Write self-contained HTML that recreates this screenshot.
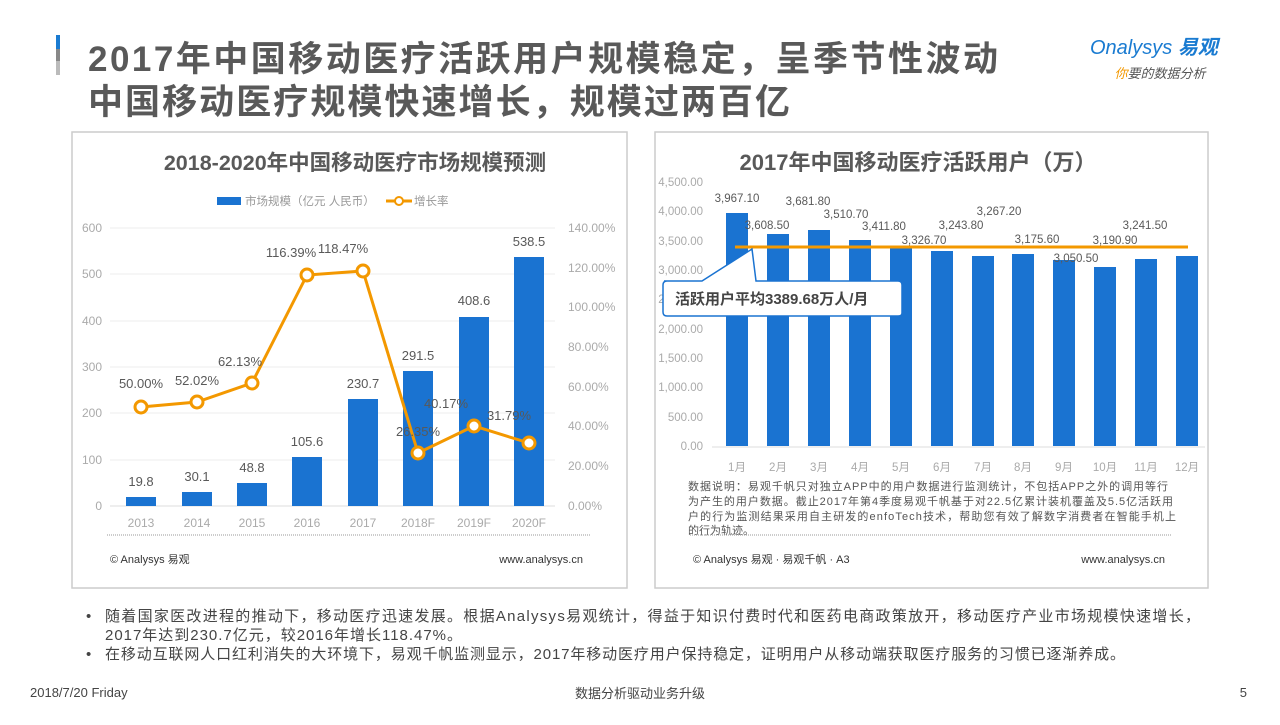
<!DOCTYPE html>
<html><head><meta charset="utf-8"><style>
body{margin:0;width:1280px;height:720px;background:#fff;overflow:hidden;font-family:"Liberation Sans","Noto Sans CJK SC",sans-serif}
svg text{font-family:"Liberation Sans","Noto Sans CJK SC",sans-serif}
</style></head><body>
<svg width="1280" height="720" viewBox="0 0 1280 720" xmlns="http://www.w3.org/2000/svg">
<rect x="56" y="35" width="4" height="14" fill="#1a7bd1"/>
<rect x="56" y="49" width="4" height="12" fill="#888"/>
<rect x="56" y="61" width="4" height="14" fill="#bbb"/>
<text x="88" y="71" font-size="35" font-weight="bold" fill="#595959" textLength="910" lengthAdjust="spacing">2017年中国移动医疗活跃用户规模稳定，呈季节性波动</text>
<text x="88" y="114" font-size="35" font-weight="bold" fill="#595959" textLength="702" lengthAdjust="spacing">中国移动医疗规模快速增长，规模过两百亿</text>
<text x="1090" y="54" font-size="20" fill="#1a7bd1" font-style="italic">Onalysys <tspan font-weight="bold">易观</tspan></text>
<text x="1160" y="78" font-size="13" fill="#555" text-anchor="middle" font-style="italic"><tspan fill="#f39800">你</tspan>要的数据分析</text>

<!-- left panel -->
<rect x="72" y="132" width="555" height="456" fill="#fff" stroke="#ccc" stroke-width="1.5"/>
<text x="355" y="170" font-size="21.5" font-weight="bold" fill="#595959" text-anchor="middle">2018-2020年中国移动医疗市场规模预测</text>
<rect x="217" y="197" width="24" height="8" fill="#1a73d1"/>
<text x="245" y="205" font-size="11.5" fill="#999">市场规模（亿元 人民币）</text>
<line x1="386" y1="201" x2="412" y2="201" stroke="#f39800" stroke-width="3"/>
<circle cx="399" cy="201" r="4" fill="#fff" stroke="#f39800" stroke-width="2"/>
<text x="414" y="205" font-size="11.5" fill="#999">增长率</text>
<g stroke="#eee" stroke-width="1">
<line x1="110" y1="228" x2="555" y2="228"/><line x1="110" y1="274" x2="555" y2="274"/><line x1="110" y1="321" x2="555" y2="321"/><line x1="110" y1="367" x2="555" y2="367"/><line x1="110" y1="413" x2="555" y2="413"/><line x1="110" y1="460" x2="555" y2="460"/></g>
<line x1="110" y1="506" x2="555" y2="506" stroke="#ddd"/>
<g font-size="12" fill="#aaa" text-anchor="end">
<text x="102" y="232">600</text><text x="102" y="278">500</text><text x="102" y="325">400</text><text x="102" y="371">300</text><text x="102" y="417">200</text><text x="102" y="464">100</text><text x="102" y="510">0</text></g>
<g font-size="12" fill="#aaa">
<text x="568" y="232">140.00%</text><text x="568" y="272">120.00%</text><text x="568" y="311">100.00%</text><text x="568" y="351">80.00%</text><text x="568" y="391">60.00%</text><text x="568" y="430">40.00%</text><text x="568" y="470">20.00%</text><text x="568" y="510">0.00%</text></g>
<g fill="#1a73d1">
<rect x="126" y="497" width="30" height="9"/><rect x="182" y="492" width="30" height="14"/><rect x="237" y="483" width="30" height="23"/><rect x="292" y="457" width="30" height="49"/><rect x="348" y="399" width="30" height="107"/><rect x="403" y="371" width="30" height="135"/><rect x="459" y="317" width="30" height="189"/><rect x="514" y="257" width="30" height="249"/></g>
<polyline points="141,407 197,402 252,383 307,275 363,271 418,453 474,426 529,443" fill="none" stroke="#f39800" stroke-width="3"/>
<g fill="#fff" stroke="#f39800" stroke-width="3">
<circle cx="141" cy="407" r="6"/><circle cx="197" cy="402" r="6"/><circle cx="252" cy="383" r="6"/><circle cx="307" cy="275" r="6"/><circle cx="363" cy="271" r="6"/><circle cx="418" cy="453" r="6"/><circle cx="474" cy="426" r="6"/><circle cx="529" cy="443" r="6"/></g>
<g font-size="13" fill="#595959" text-anchor="middle">
<text x="141" y="486">19.8</text><text x="197" y="481">30.1</text><text x="252" y="472">48.8</text><text x="307" y="446">105.6</text><text x="363" y="388">230.7</text><text x="418" y="360">291.5</text><text x="474" y="305">408.6</text><text x="529" y="246">538.5</text>
<text x="141" y="388">50.00%</text><text x="197" y="385">52.02%</text><text x="240" y="366">62.13%</text><text x="291" y="257">116.39%</text><text x="343" y="253">118.47%</text><text x="418" y="436">26.35%</text><text x="446" y="408">40.17%</text><text x="509" y="420">31.79%</text></g>
<g font-size="12" fill="#aaa" text-anchor="middle">
<text x="141" y="527">2013</text><text x="197" y="527">2014</text><text x="252" y="527">2015</text><text x="307" y="527">2016</text><text x="363" y="527">2017</text><text x="418" y="527">2018F</text><text x="474" y="527">2019F</text><text x="529" y="527">2020F</text></g>
<line x1="107" y1="535" x2="590" y2="535" stroke="#999" stroke-dasharray="1,1"/>
<text x="110" y="563" font-size="11" fill="#333">© Analysys 易观</text>
<text x="583" y="563" font-size="11" fill="#333" text-anchor="end">www.analysys.cn</text>

<!-- right panel -->
<rect x="655" y="132" width="553" height="456" fill="#fff" stroke="#ccc" stroke-width="1.5"/>
<text x="918" y="170" font-size="22" font-weight="bold" fill="#595959" text-anchor="middle">2017年中国移动医疗活跃用户（万）</text>
<g font-size="11.5" fill="#aaa" text-anchor="end">
<text x="703" y="186">4,500.00</text><text x="703" y="215">4,000.00</text><text x="703" y="245">3,500.00</text><text x="703" y="274">3,000.00</text><text x="703" y="303">2,500.00</text><text x="703" y="333">2,000.00</text><text x="703" y="362">1,500.00</text><text x="703" y="391">1,000.00</text><text x="703" y="421">500.00</text><text x="703" y="450">0.00</text></g>
<line x1="712" y1="447" x2="1205" y2="447" stroke="#ddd"/>
<g fill="#1a73d1">
<rect x="726" y="213" width="22" height="233"/><rect x="767" y="234" width="22" height="212"/><rect x="808" y="230" width="22" height="216"/><rect x="849" y="240" width="22" height="206"/><rect x="890" y="246" width="22" height="200"/><rect x="931" y="251" width="22" height="195"/><rect x="972" y="256" width="22" height="190"/><rect x="1012" y="254" width="22" height="192"/><rect x="1053" y="260" width="22" height="186"/><rect x="1094" y="267" width="22" height="179"/><rect x="1135" y="259" width="22" height="187"/><rect x="1176" y="256" width="22" height="190"/></g>
<line x1="735" y1="247" x2="1188" y2="247" stroke="#f39800" stroke-width="3"/>
<g font-size="11.5" fill="#595959" text-anchor="middle">
<text x="737" y="202">3,967.10</text><text x="767" y="229">3,608.50</text><text x="808" y="205">3,681.80</text><text x="846" y="218">3,510.70</text><text x="884" y="230">3,411.80</text><text x="924" y="244">3,326.70</text><text x="961" y="229">3,243.80</text><text x="999" y="215">3,267.20</text><text x="1037" y="243">3,175.60</text><text x="1076" y="262">3,050.50</text><text x="1115" y="244">3,190.90</text><text x="1145" y="229">3,241.50</text></g>
<path d="M664,281 L702,281 L752,249 L756,281 L898,281 Q902,281 902,285 L902,313 Q902,316 898,316 L667,316 Q663,316 663,312 L663,285 Q663,281 667,281" fill="#fff" stroke="#1a73d1" stroke-width="1.5"/>
<text x="675" y="304" font-size="15" font-weight="bold" fill="#444">活跃用户平均3389.68万人/月</text>
<g font-size="11.5" fill="#aaa" text-anchor="middle">
<text x="737" y="471">1月</text><text x="778" y="471">2月</text><text x="819" y="471">3月</text><text x="860" y="471">4月</text><text x="901" y="471">5月</text><text x="942" y="471">6月</text><text x="983" y="471">7月</text><text x="1023" y="471">8月</text><text x="1064" y="471">9月</text><text x="1105" y="471">10月</text><text x="1146" y="471">11月</text><text x="1187" y="471">12月</text></g>
<g font-size="11" fill="#555">
<text x="688" y="490" textLength="480" lengthAdjust="spacing">数据说明：易观千帆只对独立APP中的用户数据进行监测统计，不包括APP之外的调用等行</text>
<text x="688" y="505" textLength="485" lengthAdjust="spacing">为产生的用户数据。截止2017年第4季度易观千帆基于对22.5亿累计装机覆盖及5.5亿活跃用</text>
<text x="688" y="520" textLength="488" lengthAdjust="spacing">户的行为监测结果采用自主研发的enfoTech技术，帮助您有效了解数字消费者在智能手机上</text>
<text x="688" y="534">的行为轨迹。</text></g>
<line x1="690" y1="535" x2="1172" y2="535" stroke="#999" stroke-dasharray="1,1"/>
<text x="693" y="563" font-size="11" fill="#333">© Analysys 易观 · 易观千帆 · A3</text>
<text x="1165" y="563" font-size="11" fill="#333" text-anchor="end">www.analysys.cn</text>

<!-- bullets -->
<g font-size="15" fill="#444">
<text x="86" y="621">•</text><text x="105" y="621" textLength="1095" lengthAdjust="spacing">随着国家医改进程的推动下，移动医疗迅速发展。根据Analysys易观统计，得益于知识付费时代和医药电商政策放开，移动医疗产业市场规模快速增长，</text>
<text x="105" y="640" textLength="357" lengthAdjust="spacing">2017年达到230.7亿元，较2016年增长118.47%。</text>
<text x="86" y="659">•</text><text x="105" y="659" textLength="1020" lengthAdjust="spacing">在移动互联网人口红利消失的大环境下，易观千帆监测显示，2017年移动医疗用户保持稳定，证明用户从移动端获取医疗服务的习惯已逐渐养成。</text></g>
<g font-size="13" fill="#444">
<text x="30" y="697">2018/7/20 Friday</text>
<text x="640" y="698" text-anchor="middle">数据分析驱动业务升级</text>
<text x="1247" y="697" text-anchor="end">5</text></g>
</svg>
</body></html>
